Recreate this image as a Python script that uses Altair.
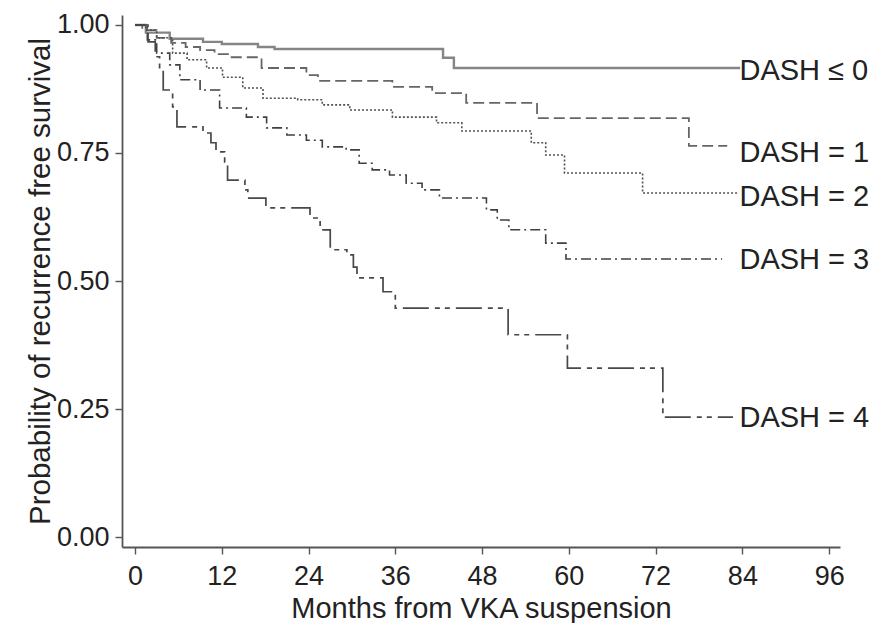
import altair as alt
import pandas as pd

# ---- data (months, survival probability) ----
groups = ["DASH ≤ 0", "DASH = 1", "DASH = 2", "DASH = 3", "DASH = 4"]

t0 = [0, 1.5, 4.8, 9.4, 12, 17, 19.3, 42.6, 44.1, 83.7]
v0 = [1.0, 0.985, 0.973, 0.967, 0.963, 0.957, 0.953, 0.936, 0.916, 0.916]

t1 = [0, 1, 3, 5, 7, 9, 11, 13, 17.5, 23.7, 25.3, 35.6, 41.1, 45.8, 55.6, 76.6, 81.9]
v1 = [1.0, 0.99, 0.975, 0.965, 0.957, 0.951, 0.943, 0.937, 0.916, 0.902, 0.891, 0.879,
      0.867, 0.848, 0.818, 0.764, 0.764]

t2 = [0, 1.5, 3.0, 5.2, 7.2, 9.9, 12.1, 14.9, 17.7, 22.5, 25.9, 29.7, 35.6, 41.7, 45.2,
      54.8, 56.8, 59.4, 70.2, 83.4]
v2 = [1.0, 0.99, 0.975, 0.945, 0.932, 0.916, 0.898, 0.877, 0.857, 0.854, 0.844, 0.834,
      0.820, 0.809, 0.793, 0.770, 0.746, 0.711, 0.672, 0.672]

t3 = [0, 1.7, 3.0, 4.8, 6.2, 9.0, 11.7, 15.4, 18.2, 21.0, 23.7, 25.9, 29.2, 31.0, 32.8,
      35.2, 37.5, 39.7, 42.1, 48.6, 50.1, 51.7, 56.8, 59.6, 81.2]
v3 = [1.0, 0.971, 0.945, 0.922, 0.893, 0.873, 0.838, 0.820, 0.799, 0.785, 0.775, 0.762,
      0.756, 0.730, 0.717, 0.707, 0.691, 0.678, 0.662, 0.639, 0.619, 0.600, 0.574, 0.543,
      0.543]

t4 = [0, 1.8, 2.8, 3.4, 3.9, 5.2, 5.8, 9.4, 10.5, 11.2, 12.4, 12.8, 15.2, 15.6, 18.1,
      24.2, 25.6, 27.0, 29.3, 30.2, 30.7, 34.3, 36.0, 51.6, 59.8, 73.0, 82.7]
v4 = [1.0, 0.967, 0.938, 0.912, 0.873, 0.840, 0.801, 0.789, 0.770, 0.752, 0.732, 0.697,
      0.678, 0.662, 0.643, 0.623, 0.600, 0.561, 0.551, 0.527, 0.506, 0.479, 0.447, 0.395,
      0.330, 0.234, 0.234]

label_y = [0.910, 0.750, 0.664, 0.541, 0.232]
label_x = [83.6, 83.6, 83.6, 83.6, 83.6]

x_ticks = [0, 12, 24, 36, 48, 60, 72, 84, 96]
y_ticks = [0.0, 0.25, 0.5, 0.75, 1.0]

series_t = [t0, t1, t2, t3, t4]
series_v = [v0, v1, v2, v3, v4]

rows = []
for g, ts, vs in zip(groups, series_t, series_v):
    for t, v in zip(ts, vs):
        rows.append({"group": g, "month": t, "surv": v})
df = pd.DataFrame(rows)
lab = pd.DataFrame({"group": groups, "month": label_x, "surv": label_y})

# ---- styles ----
dashes = [[1, 0], [11, 5], [2, 2], [10, 4, 2, 4], [5, 5, 5, 6, 26, 6]]
colors = ["#858585", "#666666", "#505050", "#404040", "#484848"]
widths = [2.4, 1.8, 1.6, 1.6, 1.7]

FONT = "Liberation Sans"
xscale = alt.Scale(domain=[-1.8, 97.5], nice=False, zero=False)
yscale = alt.Scale(domain=[-0.0195, 1.0195], nice=False, zero=False)

x_axis = alt.Axis(values=x_ticks, title="Months from VKA suspension", grid=False,
                  labelFontSize=27, titleFontSize=29, tickSize=7, labelPadding=9,
                  titlePadding=5, domainColor="#555", tickColor="#555",
                  domainWidth=1.8, tickWidth=1.4, labelColor="#222",
                  titleColor="#222", titleFontWeight="normal", labelFont=FONT,
                  titleFont=FONT, labelFlush=False)
y_axis = alt.Axis(values=y_ticks, format=".2f",
                  title="Probability of recurrence free survival", grid=False,
                  labelFontSize=27, titleFontSize=29.5, tickSize=7, labelPadding=6,
                  titlePadding=1, domainColor="#555", tickColor="#555",
                  domainWidth=1.8, tickWidth=1.4, labelColor="#222",
                  titleColor="#222", titleFontWeight="normal", labelFont=FONT,
                  titleFont=FONT, labelFlush=False)

layers = []
for i, g in enumerate(groups):
    line = alt.Chart(df).transform_filter(alt.datum.group == g).mark_line(
        interpolate="step-after", strokeDash=dashes[i], color=colors[i],
        strokeWidth=widths[i],
    ).encode(
        x=alt.X("month:Q", scale=xscale, axis=x_axis),
        y=alt.Y("surv:Q", scale=yscale, axis=y_axis),
        order="month:Q",
    )
    layers.append(line)

texts = alt.Chart(lab).mark_text(
    align="left", baseline="middle", fontSize=29, font=FONT, color="#222"
).encode(
    x=alt.X("month:Q", scale=xscale, axis=x_axis),
    y=alt.Y("surv:Q", scale=yscale, axis=y_axis),
    text="group:N",
)

chart = alt.layer(*layers, texts).properties(
    width=718, height=532,
    padding={"left": 114, "top": 7, "right": 33, "bottom": 76},
    autosize=alt.AutoSizeParams(type="none"),
    background="white",
).configure_view(stroke=None)

chart.save("out.html", embed_options={"renderer": "svg", "actions": False})
